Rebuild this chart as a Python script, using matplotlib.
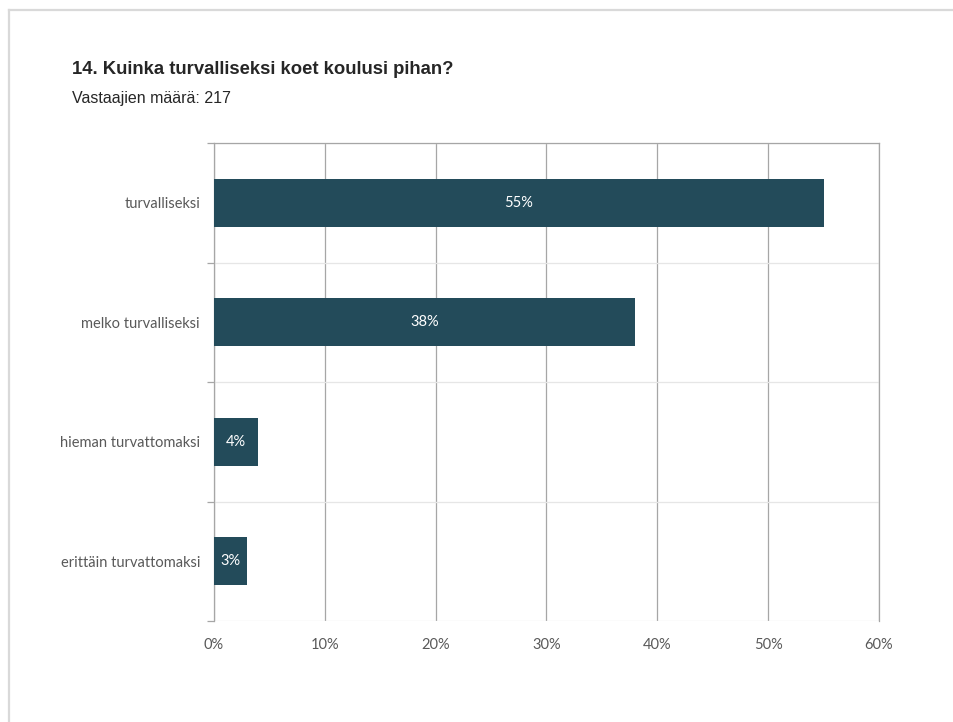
import matplotlib
matplotlib.use("Agg")
import matplotlib.pyplot as plt
from matplotlib.lines import Line2D
from matplotlib.ticker import FuncFormatter, FixedLocator

categories = ["turvalliseksi", "melko turvalliseksi", "hieman turvattomaksi", "erittäin turvattomaksi"]
values = [55, 38, 4, 3]
xticks = [0, 10, 20, 30, 40, 50, 60]
title = "14. Kuinka turvalliseksi koet koulusi pihan?"
subtitle = "Vastaajien määrä: 217"

W, H = 954, 722
fig = plt.figure(figsize=(W / 100, H / 100), dpi=100)
fig.patch.set_facecolor("white")

# frame of the page
fig.add_artist(Line2D([9 / W, 1], [1 - 10 / H, 1 - 10 / H], color="#d9d9d9", lw=1.6, transform=fig.transFigure))
fig.add_artist(Line2D([9 / W, 9 / W], [0, 1 - 10 / H], color="#d9d9d9", lw=1.6, transform=fig.transFigure))

ax = fig.add_axes([214 / W, 1 - 621 / H, (879 - 214) / W, (621 - 143) / H])
n = len(categories)
ypos = list(range(n))
bar_color = "#234b5a"
ax.barh(ypos, values, height=0.4, color=bar_color, zorder=3)
ax.set_xlim(0, 60)
ax.set_ylim(n - 0.5, -0.5)

label_font = "Lato"
for y, v in zip(ypos, values):
    ax.text(v / 2, y, f"{v}%", ha="center", va="center", color="white",
            fontsize=10.5, family=label_font, zorder=4)

ax.xaxis.set_major_locator(FixedLocator(xticks))
ax.xaxis.set_major_formatter(FuncFormatter(lambda x, p: f"{int(x)}%"))
ax.set_yticks(ypos)
ax.set_yticklabels(categories)
ax.yaxis.set_minor_locator(FixedLocator([i - 0.5 for i in range(n + 1)]))

ax.grid(axis="x", which="major", color="#a6a6a6", lw=0.9, zorder=0)
ax.grid(axis="y", which="minor", color="#e6e6e6", lw=0.9, zorder=0)

ax.spines["bottom"].set_visible(False)
for s in ["left", "top", "right"]:
    ax.spines[s].set_color("#a6a6a6")
    ax.spines[s].set_linewidth(0.9)

ax.tick_params(axis="x", which="both", length=0, pad=12, labelsize=10.5, labelcolor="#595959")
ax.tick_params(axis="y", which="major", length=0, pad=10, labelsize=10.5, labelcolor="#595959")
ax.tick_params(axis="y", which="minor", length=5, color="#a6a6a6", width=0.9)
for lbl in ax.get_xticklabels() + ax.get_yticklabels():
    lbl.set_family(label_font)

fig.text(72 / W, 1 - 69 / H, title, fontsize=13.3, fontweight="bold", family="Liberation Sans",
         color="#262626", ha="left", va="center")
fig.text(72 / W, 1 - 98 / H, subtitle, fontsize=11.5, family="Liberation Sans",
         color="#262626", ha="left", va="center")

fig.savefig("out.png", dpi=100)
